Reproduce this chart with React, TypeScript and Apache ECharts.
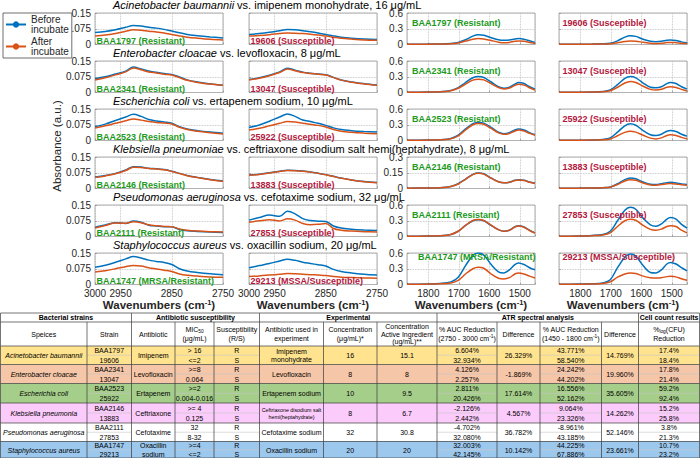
import React, { useEffect, useRef } from "react";
import * as echarts from "echarts";

// ---------- DATA ----------
const WAVE_CH = [3000, 2980, 2960, 2940, 2925, 2910, 2895, 2880, 2865, 2850, 2835, 2820, 2800, 2775, 2750];
const WAVE_AMIDE = [1870, 1810, 1762, 1726, 1702, 1678, 1654, 1636, 1618, 1594, 1570, 1552, 1534, 1516, 1504, 1486, 1468, 1450];
const AMIDE_LABELS = [1500, 1600, 1700, 1800];

const CH_RES_BEFORE = [
  [0.057, 0.062, 0.070, 0.082, 0.090, 0.088, 0.082, 0.078, 0.072, 0.064, 0.056, 0.048, 0.042, 0.036, 0.031],
  [0.066, 0.075, 0.088, 0.102, 0.122, 0.112, 0.102, 0.096, 0.090, 0.086, 0.074, 0.060, 0.050, 0.041, 0.035],
  [0.066, 0.078, 0.095, 0.112, 0.125, 0.115, 0.100, 0.093, 0.088, 0.082, 0.066, 0.055, 0.047, 0.040, 0.035],
  [0.055, 0.062, 0.072, 0.088, 0.104, 0.102, 0.096, 0.094, 0.090, 0.082, 0.072, 0.062, 0.053, 0.043, 0.036],
  [0.044, 0.055, 0.066, 0.062, 0.074, 0.068, 0.054, 0.050, 0.047, 0.046, 0.033, 0.027, 0.024, 0.021, 0.019],
  [0.082, 0.092, 0.106, 0.122, 0.133, 0.126, 0.116, 0.110, 0.105, 0.095, 0.075, 0.064, 0.057, 0.051, 0.047],
];
const CH_RES_AFTER = [
  [0.040, 0.045, 0.052, 0.063, 0.070, 0.068, 0.063, 0.060, 0.055, 0.048, 0.041, 0.035, 0.030, 0.025, 0.022],
  [0.060, 0.070, 0.084, 0.098, 0.117, 0.108, 0.098, 0.093, 0.087, 0.083, 0.071, 0.058, 0.048, 0.040, 0.034],
  [0.060, 0.070, 0.082, 0.094, 0.102, 0.097, 0.090, 0.086, 0.083, 0.079, 0.063, 0.052, 0.044, 0.037, 0.031],
  [0.053, 0.060, 0.070, 0.086, 0.101, 0.100, 0.095, 0.093, 0.089, 0.081, 0.071, 0.061, 0.052, 0.042, 0.034],
  [0.040, 0.052, 0.064, 0.063, 0.070, 0.066, 0.056, 0.051, 0.048, 0.047, 0.036, 0.030, 0.026, 0.023, 0.021],
  [0.060, 0.066, 0.075, 0.085, 0.090, 0.088, 0.080, 0.074, 0.068, 0.062, 0.050, 0.044, 0.040, 0.036, 0.034],
];
const CH_SUS_BEFORE = [
  [0.048, 0.052, 0.058, 0.066, 0.071, 0.070, 0.066, 0.061, 0.055, 0.048, 0.041, 0.035, 0.030, 0.026, 0.024],
  [0.062, 0.070, 0.082, 0.098, 0.116, 0.106, 0.097, 0.092, 0.088, 0.085, 0.072, 0.060, 0.050, 0.042, 0.036],
  [0.062, 0.074, 0.092, 0.112, 0.126, 0.115, 0.098, 0.090, 0.082, 0.072, 0.060, 0.052, 0.047, 0.043, 0.040],
  [0.064, 0.068, 0.075, 0.082, 0.087, 0.086, 0.083, 0.079, 0.073, 0.066, 0.058, 0.050, 0.041, 0.033, 0.028],
  [0.078, 0.090, 0.102, 0.096, 0.120, 0.108, 0.085, 0.076, 0.073, 0.072, 0.050, 0.040, 0.035, 0.031, 0.028],
  [0.080, 0.090, 0.100, 0.112, 0.120, 0.115, 0.106, 0.100, 0.094, 0.088, 0.072, 0.062, 0.055, 0.049, 0.045],
];
const CH_SUS_AFTER = [
  [0.040, 0.043, 0.047, 0.052, 0.055, 0.054, 0.052, 0.049, 0.045, 0.040, 0.035, 0.030, 0.026, 0.022, 0.020],
  [0.060, 0.068, 0.080, 0.095, 0.112, 0.104, 0.095, 0.091, 0.087, 0.083, 0.071, 0.059, 0.049, 0.041, 0.035],
  [0.050, 0.058, 0.070, 0.082, 0.090, 0.088, 0.082, 0.077, 0.072, 0.064, 0.052, 0.044, 0.039, 0.035, 0.032],
  [0.063, 0.067, 0.074, 0.081, 0.086, 0.085, 0.082, 0.078, 0.072, 0.065, 0.057, 0.049, 0.040, 0.032, 0.027],
  [0.068, 0.075, 0.080, 0.074, 0.084, 0.078, 0.062, 0.056, 0.058, 0.062, 0.038, 0.030, 0.026, 0.023, 0.021],
  [0.038, 0.041, 0.045, 0.049, 0.052, 0.051, 0.049, 0.047, 0.045, 0.043, 0.038, 0.035, 0.033, 0.031, 0.030],
];
const AM_RES_BEFORE = [
  [0.005, 0.007, 0.01, 0.02, 0.04, 0.09, 0.16, 0.185, 0.175, 0.13, 0.09, 0.08, 0.085, 0.105, 0.112, 0.1, 0.07, 0.04],
  [0.005, 0.008, 0.015, 0.04, 0.09, 0.19, 0.28, 0.305, 0.285, 0.2, 0.11, 0.08, 0.1, 0.16, 0.19, 0.17, 0.11, 0.065],
  [0.005, 0.008, 0.015, 0.04, 0.1, 0.22, 0.32, 0.345, 0.33, 0.25, 0.16, 0.13, 0.15, 0.2, 0.22, 0.2, 0.15, 0.11],
  [0.003, 0.005, 0.008, 0.02, 0.045, 0.09, 0.135, 0.148, 0.14, 0.1, 0.065, 0.055, 0.06, 0.078, 0.084, 0.078, 0.062, 0.05],
  [0.005, 0.008, 0.015, 0.04, 0.1, 0.21, 0.3, 0.32, 0.3, 0.21, 0.13, 0.1, 0.12, 0.185, 0.205, 0.18, 0.12, 0.07],
  [0.006, 0.01, 0.02, 0.05, 0.14, 0.36, 0.55, 0.6, 0.56, 0.38, 0.24, 0.22, 0.28, 0.38, 0.41, 0.38, 0.32, 0.28],
];
const AM_RES_AFTER = [
  [0.003, 0.005, 0.008, 0.015, 0.03, 0.065, 0.1, 0.113, 0.105, 0.075, 0.045, 0.035, 0.04, 0.06, 0.067, 0.06, 0.04, 0.02],
  [0.004, 0.007, 0.013, 0.035, 0.08, 0.16, 0.235, 0.254, 0.24, 0.17, 0.095, 0.068, 0.085, 0.135, 0.156, 0.14, 0.09, 0.046],
  [0.004, 0.007, 0.013, 0.035, 0.09, 0.2, 0.3, 0.325, 0.31, 0.23, 0.145, 0.118, 0.135, 0.18, 0.2, 0.18, 0.135, 0.1],
  [0.003, 0.005, 0.008, 0.019, 0.043, 0.088, 0.132, 0.145, 0.137, 0.098, 0.064, 0.054, 0.059, 0.076, 0.082, 0.076, 0.06, 0.048],
  [0.005, 0.008, 0.015, 0.04, 0.1, 0.21, 0.305, 0.325, 0.305, 0.215, 0.13, 0.1, 0.12, 0.18, 0.2, 0.175, 0.115, 0.065],
  [0.004, 0.007, 0.012, 0.03, 0.08, 0.2, 0.3, 0.33, 0.31, 0.2, 0.12, 0.107, 0.13, 0.2, 0.22, 0.2, 0.16, 0.125],
];
const AM_SUS_BEFORE = [
  [0.004, 0.006, 0.008, 0.012, 0.025, 0.07, 0.14, 0.167, 0.155, 0.1, 0.06, 0.052, 0.06, 0.08, 0.087, 0.075, 0.05, 0.033],
  [0.004, 0.006, 0.01, 0.02, 0.05, 0.15, 0.27, 0.305, 0.28, 0.18, 0.1, 0.09, 0.11, 0.17, 0.19, 0.17, 0.11, 0.065],
  [0.004, 0.006, 0.01, 0.02, 0.05, 0.16, 0.28, 0.317, 0.29, 0.19, 0.11, 0.095, 0.12, 0.175, 0.19, 0.17, 0.12, 0.083],
  [0.002, 0.003, 0.005, 0.008, 0.015, 0.045, 0.085, 0.1, 0.092, 0.062, 0.04, 0.037, 0.045, 0.056, 0.059, 0.053, 0.044, 0.037],
  [0.006, 0.01, 0.02, 0.04, 0.1, 0.3, 0.5, 0.556, 0.52, 0.35, 0.22, 0.195, 0.24, 0.33, 0.36, 0.33, 0.23, 0.16],
  [0.005, 0.008, 0.012, 0.03, 0.09, 0.32, 0.52, 0.58, 0.54, 0.36, 0.23, 0.22, 0.28, 0.39, 0.42, 0.39, 0.32, 0.26],
];
const AM_SUS_AFTER = [
  [0.003, 0.004, 0.006, 0.01, 0.015, 0.035, 0.058, 0.067, 0.062, 0.042, 0.024, 0.02, 0.025, 0.036, 0.04, 0.035, 0.026, 0.02],
  [0.003, 0.005, 0.008, 0.015, 0.035, 0.1, 0.18, 0.21, 0.19, 0.12, 0.06, 0.046, 0.06, 0.1, 0.11, 0.095, 0.06, 0.026],
  [0.003, 0.005, 0.008, 0.015, 0.03, 0.09, 0.155, 0.178, 0.16, 0.1, 0.045, 0.03, 0.05, 0.095, 0.108, 0.095, 0.06, 0.032],
  [0.002, 0.003, 0.005, 0.007, 0.013, 0.038, 0.072, 0.084, 0.078, 0.052, 0.034, 0.031, 0.037, 0.045, 0.047, 0.043, 0.036, 0.031],
  [0.005, 0.008, 0.015, 0.03, 0.07, 0.19, 0.3, 0.33, 0.31, 0.21, 0.135, 0.12, 0.14, 0.19, 0.206, 0.19, 0.12, 0.07],
  [0.004, 0.006, 0.01, 0.02, 0.05, 0.14, 0.2, 0.22, 0.21, 0.16, 0.13, 0.125, 0.13, 0.15, 0.156, 0.145, 0.11, 0.08],
];
const AMIDE_MAX = [0.6, 0.6, 0.6, 0.3, 0.6, 0.6];

const TITLE_SPECIES = ["Acinetobacter baumannii", "Enterobacter cloacae", "Escherichia coli", "Klebsiella pneumoniae", "Pseudomonas aeruginosa", "Staphylococcus aureus"];
const TITLE_DRUG = [
  " vs. imipenem monohydrate, 16 μg/mL",
  " vs. levofloxacin, 8 μg/mL",
  " vs. ertapenem sodium, 10 μg/mL",
  " vs. ceftriaxone disodium salt hemi(heptahydrate), 8 μg/mL",
  " vs. cefotaxime sodium, 32 μg/mL",
  " vs. oxacillin sodium, 20 μg/mL",
];
const RES_LABEL = ["BAA1797 (Resistant)", "BAA2341 (Resistant)", "BAA2523 (Resistant)", "BAA2146 (Resistant)", "BAA2111 (Resistant)", "BAA1747 (MRSA/Resistant)"];
const SUS_LABEL = ["19606 (Susceptible)", "13047 (Susceptible)", "25922 (Susceptible)", "13883 (Susceptible)", "27853 (Susceptible)", "29213 (MSSA/Susceptible)"];

// table
const GROUP_HEADERS = ["Bacterial strains", "Antibiotic susceptibility", "Experimental", "ATR spectral analysis", "Cell count results"];
const SPECIES = ["Acinetobacter baumannii", "Enterobacter cloacae", "Escherichia coli", "Klebsiella pneumonia", "Pseudomonas aeruginosa", "Staphylococcus aureus"];
const STRAINS = [["BAA1797", "19606"], ["BAA2341", "13047"], ["BAA2523", "25922"], ["BAA2146", "13883"], ["BAA2111", "27853"], ["BAA1747", "29213"]];
const ANTIBIOTIC = ["Imipenem", "Levofloxacin", "Ertapenem", "Ceftriaxone", "Cefotaxime", "Oxacillin\nsodium"];
const MIC = [["> 16", "<=2"], [">=8", "0.064"], [">=2", "0.004-0.016"], [">= 4", "0.125"], ["32", "8-32"], [">=4", "<=2"]];
const SUSCEPT = ["R", "S"];
const DRUG_USED = ["Imipenem\nmonohydrate", "Levofloxacin", "Ertapenem sodium", "Ceftriaxone disodium salt\nhemi(heptahydrate)", "Cefotaxime sodium", "Oxacillin sodium"];
const CONC = ["16", "8", "10", "8", "32", "20"];
const CONC_ACTIVE = ["15.1", "8", "9.5", "6.7", "30.8", "20"];
const AUC_CH = [["6.604%", "32.934%"], ["4.126%", "2.257%"], ["2.811%", "20.426%"], ["-2.126%", "2.442%"], ["-4.702%", "32.080%"], ["32.003%", "42.145%"]];
const DIFF_CH = ["26.329%", "-1.869%", "17.614%", "4.567%", "36.782%", "10.142%"];
const AUC_AM = [["43.771%", "58.540%"], ["24.242%", "44.202%"], ["16.556%", "52.162%"], ["9.064%", "23.326%"], ["-8.961%", "43.185%"], ["44.225%", "67.886%"]];
const DIFF_AM = ["14.769%", "19.960%", "35.605%", "14.262%", "52.146%", "23.661%"];
const CFU = [["17.4%", "18.4%"], ["17.8%", "21.4%"], ["59.2%", "92.4%"], ["15.2%", "25.8%"], ["3.8%", "21.3%"], ["10.7%", "23.2%"]];
const ROW_COLORS = ["#FFE38F", "#F6C6A8", "#A6CE8B", "#FBCBFB", "#FFFFFF", "#9DC8EE"];

// ---------- LAYOUT / STYLE ----------
const FONT = '"Liberation Sans", Arial, Helvetica, sans-serif';
const BLUE = "#0072BD";
const ORANGE = "#D95319";
const GREEN = "#1c9a1c";
const RED = "#b3173d";
const INK = "#262626";
const COL_LEFT = [95, 249, 407, 559];
const COL_W = 128;
const ROW_TOP = [13, 61, 109, 157, 205, 253];
const ROW_H = 31.5;

const TX = [0.5, 87, 131.5, 175, 214, 259.5, 323.5, 377, 437, 497, 540, 601.5, 638.5, 699.5];
const SPLIT = [false, true, false, true, true, false, false, false, true, false, true, false, true];
const GROUP_X = [0.5, 131.5, 259.5, 437, 638.5, 699.5];
const T_TOP = 313;
const T_H1 = 322;
const BLOCK_TOP = [346, 364.5, 383.5, 403, 423, 441.5, 458];

function buildOption() {
  const grids: any[] = [];
  const xAxes: any[] = [];
  const yAxes: any[] = [];
  const series: any[] = [];
  const elements: any[] = [];

  for (let r = 0; r < 6; r++) {
    for (let c = 0; c < 4; c++) {
      const idx = r * 4 + c;
      const isCH = c < 2;
      const isRes = c % 2 === 0;
      grids.push({
        left: COL_LEFT[c], top: ROW_TOP[r], width: COL_W, height: ROW_H,
        show: true, borderColor: "#9a9a9a", borderWidth: 0.8, containLabel: false,
      });
      const common = {
        gridIndex: idx,
        axisLine: { show: false },
        axisTick: { show: true, inside: true, length: 2, lineStyle: { color: "#8a8a8a", width: 0.7 } },
        splitLine: { show: true, lineStyle: { type: "dotted", color: "#b8b8b8", width: 0.8 } },
      };
      if (isCH) {
        xAxes.push({
          ...common, type: "value", inverse: true, min: 2750, max: 3000, interval: 100,
          axisLabel: { show: r === 5, fontSize: 10, color: INK, margin: 3.5, showMinLabel: true, showMaxLabel: true, formatter: (v: number) => String(v) },
        });
      } else {
        xAxes.push({
          ...common, type: "value", inverse: true, min: 1450, max: 1870, splitNumber: 4,
          axisLabel: {
            show: r === 5, fontSize: 10, color: INK, margin: 3.5, showMinLabel: true, showMaxLabel: true,
            formatter: (v: number) => (AMIDE_LABELS.indexOf(Math.round(v)) >= 0 ? String(Math.round(v)) : ""),
          },
        });
      }
      const ymax = isCH ? 0.15 : AMIDE_MAX[r];
      yAxes.push({
        ...common, type: "value", min: 0, max: ymax, interval: ymax / 2,
        axisLabel: {
          show: c === 0 || c === 2, fontSize: 10, color: INK, margin: 4, showMinLabel: true, showMaxLabel: true,
          formatter: (v: number) => (v === 0 ? "0" : String(Math.round(v * 1000) / 1000)),
        },
      });
      const xs = isCH ? WAVE_CH : WAVE_AMIDE;
      const before = isCH ? (isRes ? CH_RES_BEFORE[r] : CH_SUS_BEFORE[r]) : (isRes ? AM_RES_BEFORE[r] : AM_SUS_BEFORE[r]);
      const after = isCH ? (isRes ? CH_RES_AFTER[r] : CH_SUS_AFTER[r]) : (isRes ? AM_RES_AFTER[r] : AM_SUS_AFTER[r]);
      series.push({
        type: "line", name: "Before incubate", xAxisIndex: idx, yAxisIndex: idx,
        data: xs.map((w, i) => [w, before[i]]), symbol: "none", showSymbol: false, smooth: 0.35, clip: true,
        lineStyle: { color: BLUE, width: 1.5 }, itemStyle: { color: BLUE }, z: 3,
      });
      series.push({
        type: "line", name: "After incubate", xAxisIndex: idx, yAxisIndex: idx,
        data: xs.map((w, i) => [w, after[i]]), symbol: "none", showSymbol: false, smooth: 0.35, clip: true,
        lineStyle: { color: ORANGE, width: 1.5 }, itemStyle: { color: ORANGE }, z: 4,
      });

      // strain labels
      const labelText = isRes ? RES_LABEL[r] : SUS_LABEL[r];
      const color = isRes ? GREEN : RED;
      let lx: number, ly: number, va: string;
      if (isCH) {
        lx = COL_LEFT[c] + 1.5; ly = ROW_TOP[r] + ROW_H + 1; va = "bottom";
      } else {
        lx = COL_LEFT[c] + (c === 2 ? 5 : 3.5);
        ly = ROW_TOP[r] + 9.5; va = "middle";
        if (r === 5) { ly = ROW_TOP[r] + 3.5; if (c === 2) lx = COL_LEFT[c] + 11; }
      }
      elements.push({
        type: "text", x: lx, y: ly, z: 10, silent: true,
        style: { text: labelText, fill: color, fontSize: 9, fontWeight: "bold", fontFamily: FONT, align: "left", verticalAlign: va },
      });
    }
    // row title
    elements.push({
      type: "text", x: 113, y: ROW_TOP[r] - 8.5, silent: true,
      style: {
        text: `{i|${TITLE_SPECIES[r]}}{n|${TITLE_DRUG[r]}}`, align: "left", verticalAlign: "middle",
        rich: {
          i: { fontSize: 11, fontStyle: "italic", fontFamily: FONT, fill: "#000" },
          n: { fontSize: 11, fontFamily: FONT, fill: "#000" },
        },
      },
    });
  }

  // axis titles
  elements.push({
    type: "text", x: 57, y: 146, rotation: Math.PI / 2, silent: true,
    style: { text: "Absorbance (a.u.)", fontSize: 11.5, fontFamily: FONT, fill: INK, align: "center", verticalAlign: "middle" },
  });
  for (let c = 0; c < 4; c++) {
    elements.push({
      type: "text", x: COL_LEFT[c] + COL_W / 2, y: 304.5, silent: true,
      style: {
        text: "{a|Wavenumbers (cm}{s|-1}{a|)}", align: "center", verticalAlign: "middle",
        rich: {
          a: { fontSize: 11.5, fontWeight: "bold", fontFamily: FONT, fill: INK },
          s: { fontSize: 7.5, fontWeight: "bold", fontFamily: FONT, fill: INK, verticalAlign: "top" },
        },
      },
    });
  }

  // ---------- table ----------
  const line = (x1: number, y1: number, x2: number, y2: number, stroke = "#3a3a3a", w = 0.7) => ({
    type: "line", silent: true, z: 20, shape: { x1, y1, x2, y2 }, style: { stroke, lineWidth: w },
  });
  const txt = (text: string, cx: number, cy: number, o: any = {}) => ({
    type: "text", x: cx, y: cy, silent: true, z: 21,
    style: {
      text, fill: "#000", fontSize: o.size || 7, fontFamily: FONT,
      fontWeight: o.bold ? "bold" : "normal", fontStyle: o.italic ? "italic" : "normal",
      align: "center", verticalAlign: "middle", lineHeight: o.lh || 8.5, rich: o.rich,
    },
  });
  const cx = (i: number) => (TX[i] + TX[i + 1]) / 2;

  elements.push({ type: "rect", silent: true, z: 15, shape: { x: 0.5, y: T_TOP, width: 699, height: BLOCK_TOP[0] - T_TOP }, style: { fill: "#fff" } });
  for (let b = 0; b < 6; b++) {
    elements.push({
      type: "rect", silent: true, z: 15,
      shape: { x: 0.5, y: BLOCK_TOP[b], width: 699, height: BLOCK_TOP[b + 1] - BLOCK_TOP[b] },
      style: { fill: ROW_COLORS[b] },
    });
  }
  for (let g = 0; g < 5; g++) {
    elements.push(txt(GROUP_HEADERS[g], (GROUP_X[g] + GROUP_X[g + 1]) / 2, (T_TOP + T_H1) / 2 + 0.3, { bold: true }));
  }
  const hy = (T_H1 + BLOCK_TOP[0]) / 2;
  const rs = {
    a: { fontSize: 7, fontFamily: FONT, fill: "#000", lineHeight: 9 },
    s: { fontSize: 4.8, fontFamily: FONT, fill: "#000", lineHeight: 9, verticalAlign: "bottom" },
    p: { fontSize: 4.8, fontFamily: FONT, fill: "#000", lineHeight: 9, verticalAlign: "top" },
  };
  const headers: any[] = [
    ["Speices"], ["Strain"], ["Antibiotic"],
    ["{a|MIC}{s|50}\n{a|(μg/mL)}", true],
    ["Susceptibility\n(R/S)"], ["Antibiotic used in\nexperiment"], ["Concentration\n(μg/mL)*"],
    ["Concentration\nActive Ingredient\n(ug/mL)**"],
    ["{a|% AUC Reduction}\n{a|(2750 - 3000 cm}{p|-1}{a|)}", true],
    ["Difference"],
    ["{a|% AUC Reduction}\n{a|(1450 - 1800 cm}{p|-1}{a|)}", true],
    ["Difference"],
    ["{a|%}{s|log}{a|(CFU)}\n{a|Reduction}", true],
  ];
  headers.forEach((h, i) => {
    elements.push(txt(h[0], cx(i), hy, h[1] ? { rich: rs, lh: 9 } : { lh: i === 7 ? 7.8 : 9 }));
  });

  for (let b = 0; b < 6; b++) {
    const top = BLOCK_TOP[b];
    const bot = BLOCK_TOP[b + 1];
    const mid = (top + bot) / 2;
    const cells: any[] = [SPECIES[b], STRAINS[b], ANTIBIOTIC[b], MIC[b], SUSCEPT, DRUG_USED[b], CONC[b], CONC_ACTIVE[b], AUC_CH[b], DIFF_CH[b], AUC_AM[b], DIFF_AM[b], CFU[b]];
    cells.forEach((v, i) => {
      if (SPLIT[i]) {
        elements.push(txt(v[0], cx(i), (top + mid) / 2 + 0.3));
        elements.push(txt(v[1], cx(i), (mid + bot) / 2 + 0.3));
        elements.push(line(TX[i], mid, TX[i + 1], mid, "#c8c8c8", 0.6));
      } else {
        const small = i === 5 && b === 3;
        const twoLine = typeof v === "string" && v.indexOf("\n") >= 0;
        elements.push(txt(v, cx(i), mid + 0.3, { italic: i === 0, size: small ? 5.3 : 7, lh: small ? 7 : twoLine ? 8.2 : 8.5 }));
      }
    });
  }
  elements.push(line(0.5, T_TOP, 699.5, T_TOP));
  elements.push(line(0.5, T_H1, 699.5, T_H1));
  BLOCK_TOP.forEach((y) => elements.push(line(0.5, y, 699.5, y)));
  GROUP_X.forEach((x) => elements.push(line(x, T_TOP, x, T_H1)));
  TX.forEach((x) => elements.push(line(x, T_H1, x, BLOCK_TOP[6])));

  return {
    animation: false,
    backgroundColor: "#ffffff",
    textStyle: { fontFamily: FONT },
    legend: {
      data: ["Before incubate", "After incubate"],
      orient: "vertical", left: 3, top: 13,
      borderColor: "#4a4a4a", borderWidth: 0.8, backgroundColor: "#fff",
      padding: [1, 3, 1, 2], itemGap: 1, itemWidth: 20, itemHeight: 8,
      textStyle: { fontSize: 10, color: INK, lineHeight: 10.5, fontFamily: FONT },
      formatter: (n: string) => n.replace(" ", "\n"),
      selectedMode: false,
    },
    grid: grids,
    xAxis: xAxes,
    yAxis: yAxes,
    series,
    graphic: { elements },
  };
}

export default function App() {
  const ref = useRef<HTMLDivElement>(null);
  useEffect(() => {
    if (!ref.current) return;
    const chart = echarts.init(ref.current, null, { renderer: "svg" });
    chart.setOption(buildOption() as any);
    return () => chart.dispose();
  }, []);
  return <div ref={ref} style={{ position: "fixed", left: 0, top: 0, width: 700, height: 458 }} />;
}
